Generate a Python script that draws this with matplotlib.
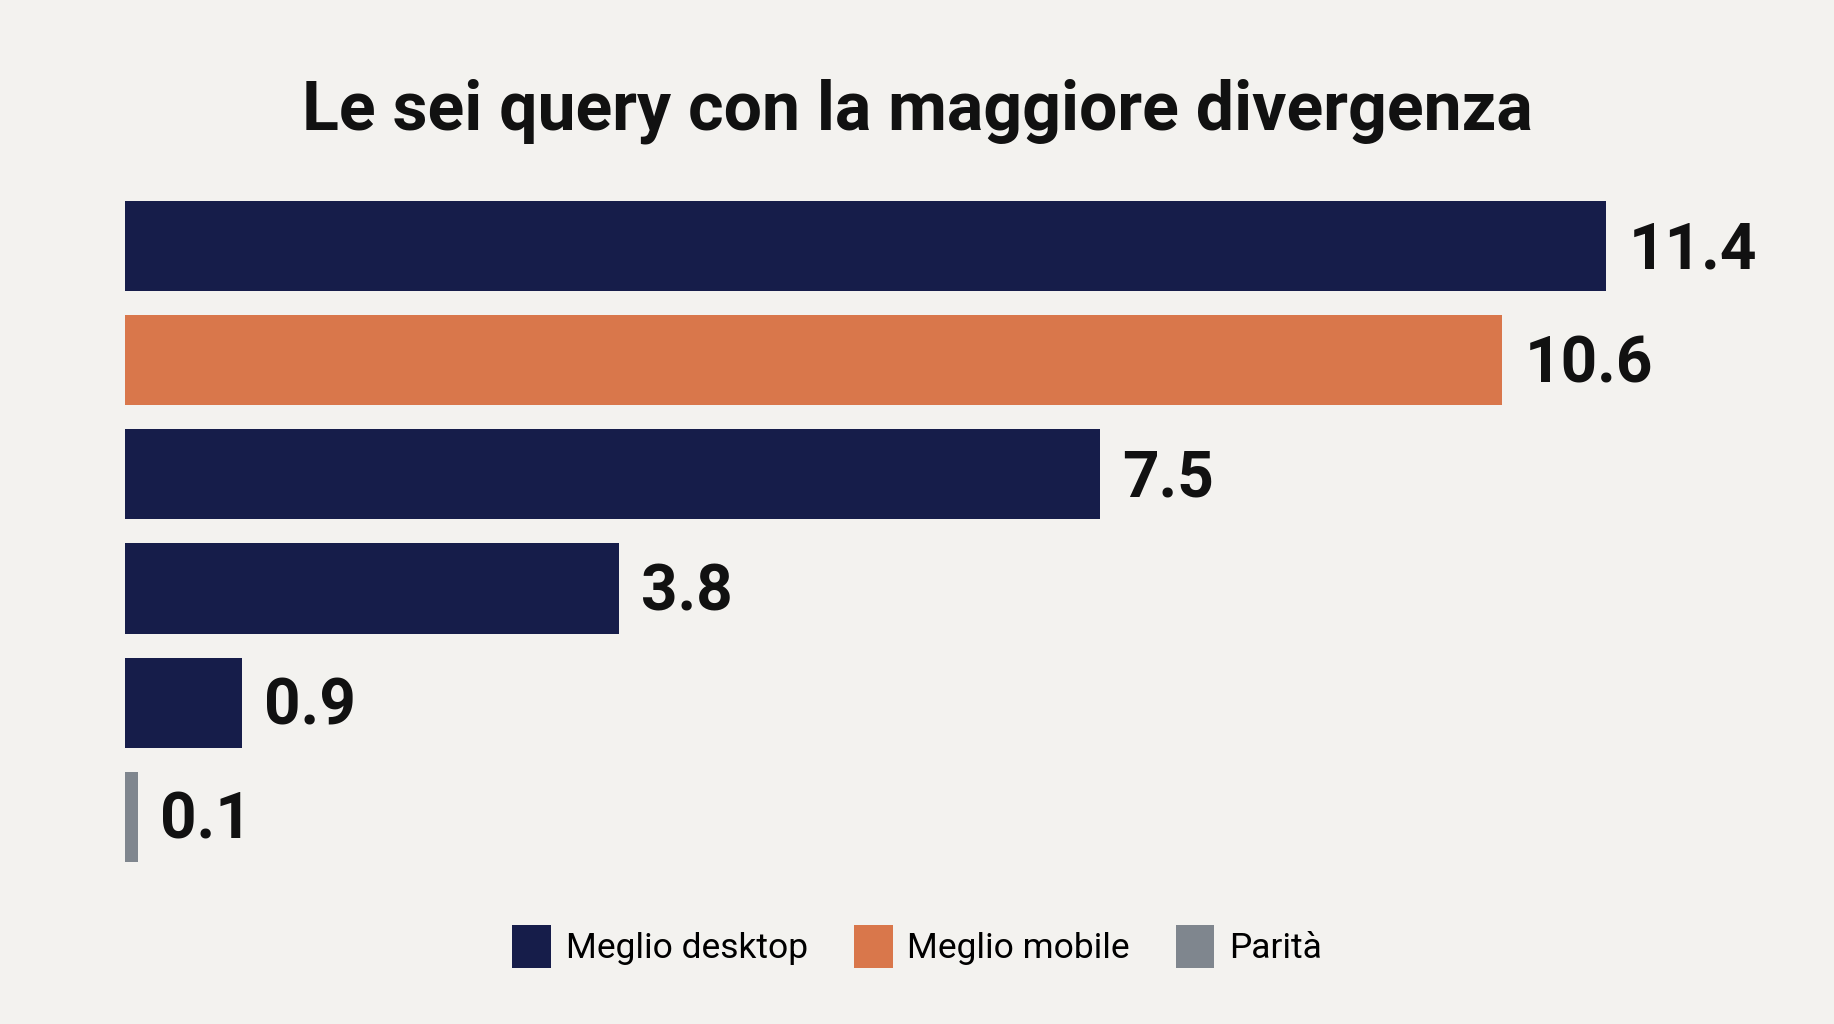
import matplotlib.pyplot as plt
from matplotlib.patches import Patch

plt.rcParams['font.family'] = ['Roboto', 'DejaVu Sans']

# Data
values = [11.4, 10.6, 7.5, 3.8, 0.9, 0.1]
groups = ["desktop", "mobile", "desktop", "desktop", "desktop", "parita"]
labels = ["11.4", "10.6", "7.5", "3.8", "0.9", "0.1"]
legend_names = ["Meglio desktop", "Meglio mobile", "Parità"]

colors = {"desktop": "#161d4a", "mobile": "#d9774b", "parita": "#7f868e"}
bg = "#f3f2ef"

fig = plt.figure(figsize=(18.34, 10.24), dpi=100, facecolor=bg)
ax = fig.add_axes([0.0682, 0.1465, 0.921, 0.669])
ax.set_facecolor(bg)

pos = list(range(len(values)))
ax.barh(pos, values, height=0.79, color=[colors[g] for g in groups])

for p, v, lab in zip(pos, values, labels):
    ax.text(v + 0.17, p + 0.04, lab, va="center", ha="left",
            fontsize=46, fontweight="bold", color="#111111")

ax.set_xlim(0, 13)
ax.set_ylim(5.5, -0.5)
ax.axis("off")

fig.text(0.5, 0.874, "Le sei query con la maggiore divergenza",
         ha="center", va="baseline", fontsize=49, fontweight="bold", color="#111111")

handles = [Patch(facecolor=colors[k]) for k in ["desktop", "mobile", "parita"]]
fig.legend(handles, legend_names, loc="center", bbox_to_anchor=(0.5, 0.076),
           ncol=3, frameon=False, fontsize=25.5, handlelength=1.1, handleheight=1.5,
           handletextpad=0.4, columnspacing=1.3)

fig.savefig("out.png", dpi=100, facecolor=bg)
